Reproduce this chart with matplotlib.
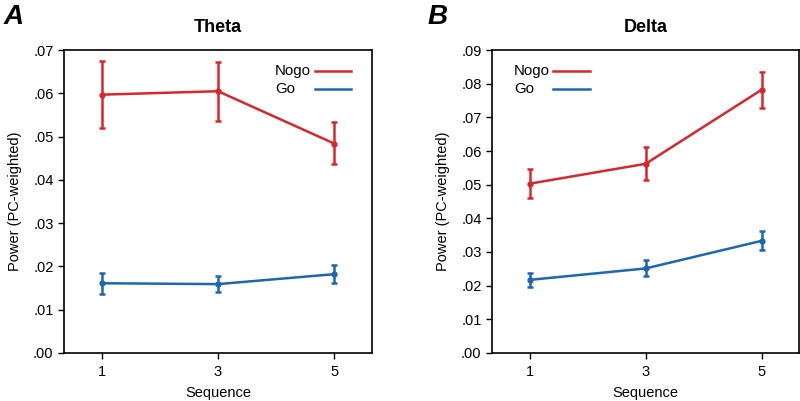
import numpy as np
import matplotlib
matplotlib.use('Agg')
import matplotlib.pyplot as plt

plt.rcParams['font.family'] = ['Liberation Sans', 'DejaVu Sans']

seq = [1, 3, 5]

# Theta
theta_nogo = [0.0597, 0.0605, 0.0484]
theta_nogo_lo = [0.0520, 0.0537, 0.0437]
theta_nogo_hi = [0.0674, 0.0672, 0.0533]
theta_go = [0.0161, 0.0159, 0.0182]
theta_go_lo = [0.0135, 0.0140, 0.0161]
theta_go_hi = [0.0185, 0.0178, 0.0203]

# Delta
delta_nogo = [0.0503, 0.0562, 0.0782]
delta_nogo_lo = [0.0459, 0.0513, 0.0728]
delta_nogo_hi = [0.0546, 0.0612, 0.0835]
delta_go = [0.0217, 0.0251, 0.0333]
delta_go_lo = [0.0196, 0.0229, 0.0305]
delta_go_hi = [0.0238, 0.0276, 0.0363]

red = '#d8262c'
blue = '#1b68b0'

fig = plt.figure(figsize=(8, 4.01), dpi=100)
axA = fig.add_axes([0.08, 0.12, 0.385, 0.755])
axB = fig.add_axes([0.615, 0.12, 0.384, 0.755])


def draw(ax, nogo, nlo, nhi, go, glo, ghi):
    for y, lo, hi, c in [(nogo, nlo, nhi, red), (go, glo, ghi, blue)]:
        y = np.array(y)
        err = [y - np.array(lo), np.array(hi) - y]
        ax.errorbar(seq, y, yerr=err, color=c, lw=1.8, marker='o', ms=3.5,
                    capsize=2.5, capthick=1.8, elinewidth=1.8)


def legend(ax, tx, lx0, lx1):
    # text on the left, line sample on the right (like the original)
    for lab, c, yy in [('Nogo', red, 0.931), ('Go', blue, 0.871)]:
        ax.text(tx, yy, lab, transform=ax.transAxes, fontsize=10.8,
                ha='left', va='center')
        ax.plot([lx0, lx1], [yy, yy], color=c, lw=1.8, transform=ax.transAxes)


def style(ax, title, top):
    ax.set_xlim(0.35, 5.65)
    ax.set_ylim(0, top)
    ax.set_xticks(seq)
    ticks = np.arange(0, top + 0.001, 0.01)
    ax.set_yticks(ticks)
    ax.set_yticklabels(['.%02d' % round(t * 100) for t in ticks])
    ax.tick_params(direction='out', length=4, labelsize=10.5, width=1)
    ax.tick_params(axis='x', pad=5)
    for s in ax.spines.values():
        s.set_linewidth(1.2)
    ax.set_title(title, fontsize=13, fontweight='bold', pad=13)
    ax.set_xlabel('Sequence', fontsize=10.5, labelpad=5)
    ax.set_ylabel('Power (PC-weighted)', fontsize=10.5, labelpad=8)


draw(axA, theta_nogo, theta_nogo_lo, theta_nogo_hi, theta_go, theta_go_lo, theta_go_hi)
style(axA, 'Theta', 0.07)
legend(axA, 0.685, 0.815, 0.932)

draw(axB, delta_nogo, delta_nogo_lo, delta_nogo_hi, delta_go, delta_go_lo, delta_go_hi)
style(axB, 'Delta', 0.09)
legend(axB, 0.072, 0.199, 0.319)

fig.text(0.004, 0.99, 'A', fontsize=20, fontweight='bold', style='italic', va='top')
fig.text(0.535, 0.99, 'B', fontsize=20, fontweight='bold', style='italic', va='top')

fig.savefig('out.png', dpi=100)
